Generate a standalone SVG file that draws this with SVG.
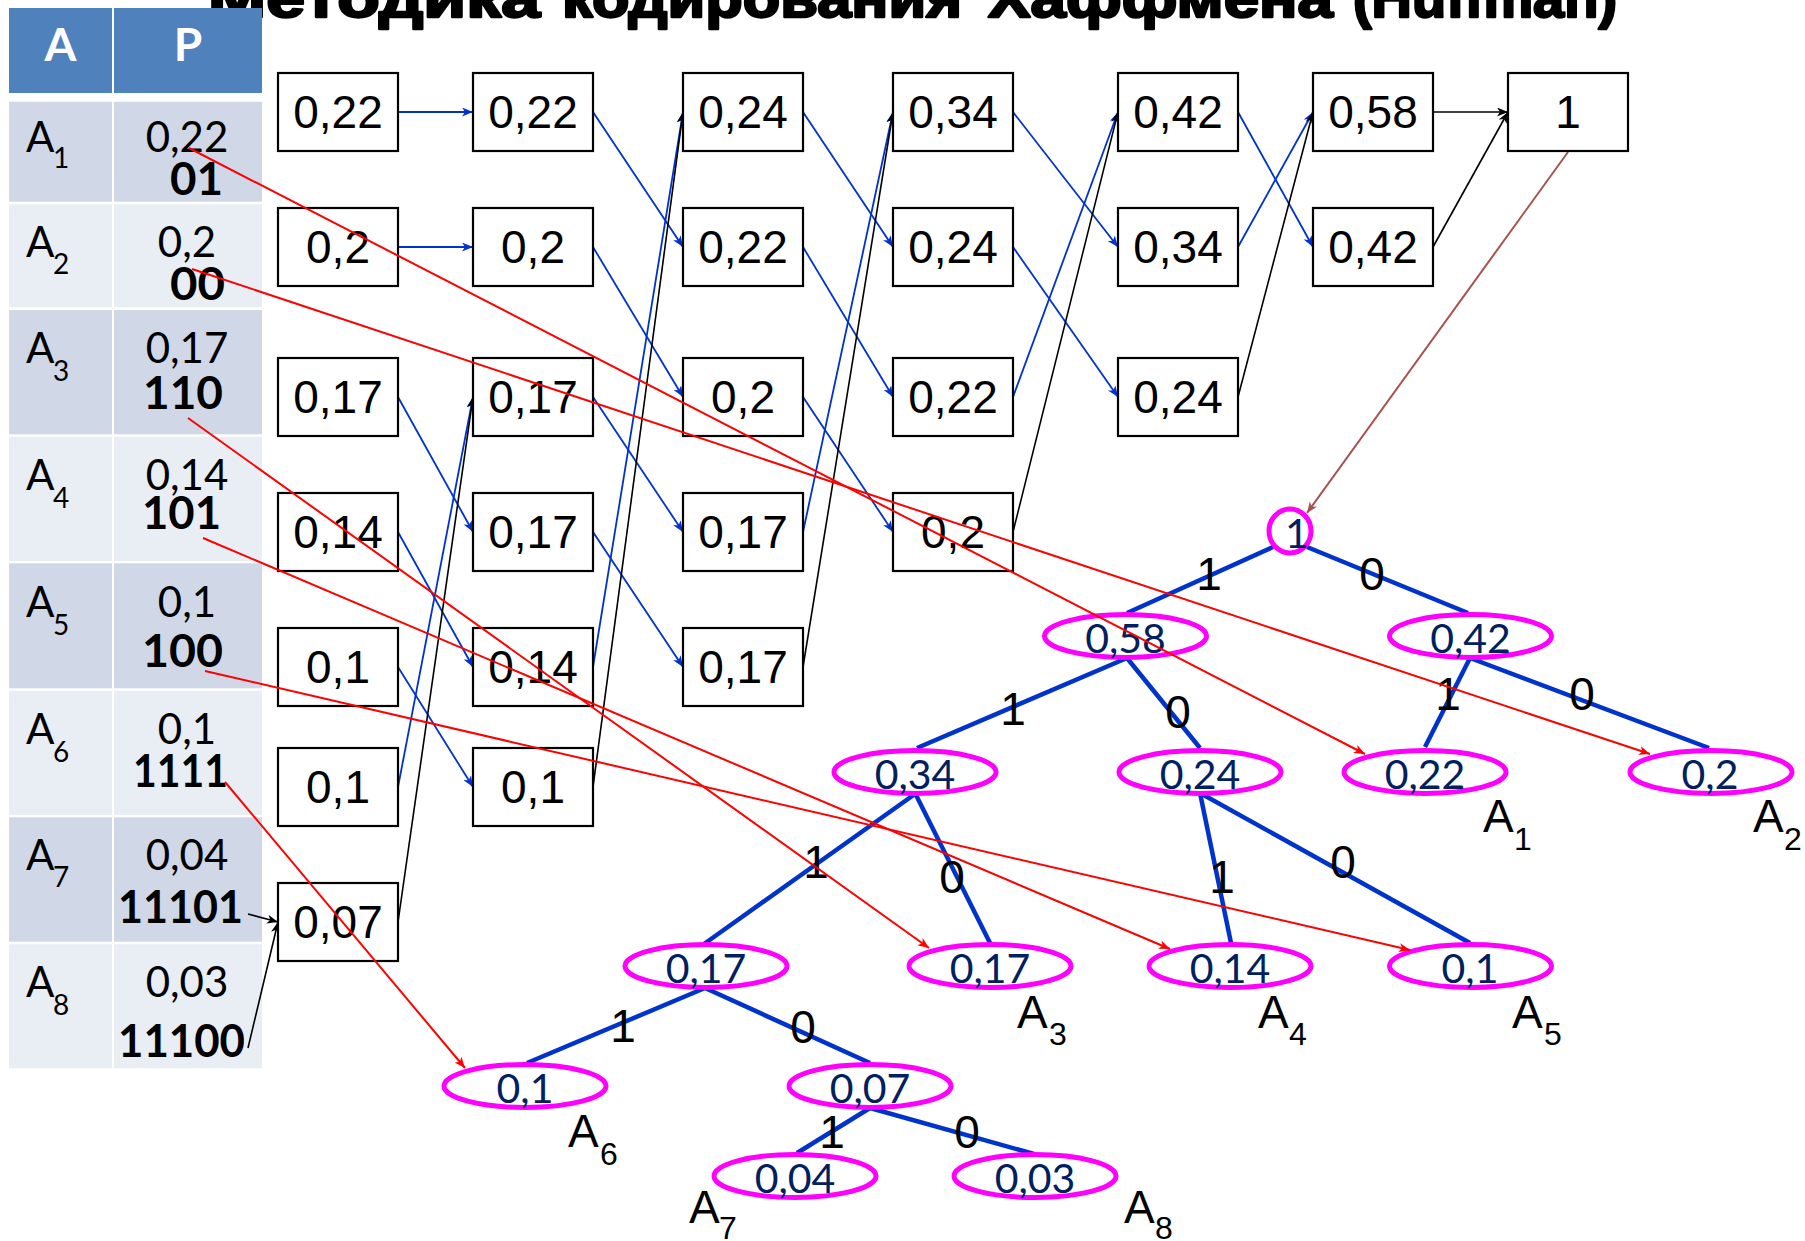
<svg xmlns="http://www.w3.org/2000/svg" width="1805" height="1241" viewBox="0 0 1805 1241">
<style>
.title{font-family:"Liberation Sans",Arial,sans-serif;font-weight:bold;font-size:56px;fill:#000;stroke:#000;stroke-width:2.4;stroke-linejoin:round}
.hdr{font-family:Lato,"Liberation Sans",sans-serif;font-weight:bold;font-size:46px;fill:#fff;text-anchor:middle}
.ta{font-family:Lato,"Liberation Sans",sans-serif;font-size:42px;fill:#000}
.tsub{font-family:Lato,"Liberation Sans",sans-serif;font-size:28px;fill:#000}
.tp{font-family:Lato,"Liberation Sans",sans-serif;font-size:42px;fill:#000;text-anchor:middle}
.tc{font-family:Lato,"Liberation Sans",sans-serif;font-size:46px;font-weight:bold;fill:#000}
.dark{fill:#D0D8E8}
.light{fill:#E9EDF4}
.box rect{fill:#fff;stroke:#000;stroke-width:2.2}
.box text{font-family:"Liberation Sans",Arial,sans-serif;font-size:46px;fill:#000;text-anchor:middle}
.nd ellipse{fill:none;stroke:#FF00FF;stroke-width:5}
.nd text{font-family:Lato,"Liberation Sans",sans-serif;font-size:41px;fill:#002060;text-anchor:middle}
.edge{stroke:#0033CC;stroke-width:4.5;fill:none}
.lbl{font-family:"Liberation Sans",Arial,sans-serif;font-size:46px;fill:#000;text-anchor:middle}
.la{font-family:"Liberation Sans",Arial,sans-serif;font-size:46px;fill:#000}
.ls{font-family:"Liberation Sans",Arial,sans-serif;font-size:32px;fill:#000}
.cb{stroke:#0033CC;stroke-width:1.8;fill:none;marker-end:url(#ab)}
.ck{stroke:#000;stroke-width:1.6;fill:none;marker-end:url(#ak)}
.cr{stroke:#FF0000;stroke-width:2;fill:none;marker-end:url(#ar)}
.cbr{stroke:#A8524F;stroke-width:2;fill:none;marker-end:url(#abr)}
</style>
<defs>
<marker id="ab" markerUnits="userSpaceOnUse" markerWidth="12" markerHeight="9" refX="11" refY="4.5" orient="auto"><path d="M0,0 L11,4.5 L0,9 L3,4.5 z" fill="#0033CC"/></marker>
<marker id="ak" markerUnits="userSpaceOnUse" markerWidth="12" markerHeight="9" refX="11" refY="4.5" orient="auto"><path d="M0,0 L11,4.5 L0,9 L3,4.5 z" fill="#000"/></marker>
<marker id="ar" markerUnits="userSpaceOnUse" markerWidth="12" markerHeight="9" refX="11" refY="4.5" orient="auto"><path d="M0,0 L11,4.5 L0,9 L3,4.5 z" fill="#FF0000"/></marker>
<marker id="abr" markerUnits="userSpaceOnUse" markerWidth="12" markerHeight="9" refX="11" refY="4.5" orient="auto"><path d="M0,0 L11,4.5 L0,9 L3,4.5 z" fill="#A8524F"/></marker>
</defs>
<rect width="1805" height="1241" fill="#fff"/>
<g id="title">
<text class="title" x="208" y="17" textLength="332" lengthAdjust="spacingAndGlyphs">Методика</text>
<text class="title" x="562" y="17" textLength="400" lengthAdjust="spacingAndGlyphs">кодирования</text>
<text class="title" x="988" y="17" textLength="345" lengthAdjust="spacingAndGlyphs">Хаффмена</text>
<text class="title" x="1353" y="17" textLength="264" lengthAdjust="spacingAndGlyphs">(Huffman)</text>
</g>

<g id="table">
<rect x="9" y="8" width="103" height="85" fill="#4F81BD"/>
<rect x="114" y="8" width="148" height="85" fill="#4F81BD"/>
<text class="hdr" x="60.5" y="61">A</text>
<text class="hdr" x="188" y="61">P</text>
<rect class="dark" x="9" y="101.7" width="103" height="100"/>
<rect class="dark" x="114" y="101.7" width="148" height="100"/>
<rect class="light" x="9" y="204.3" width="103" height="103"/>
<rect class="light" x="114" y="204.3" width="148" height="103"/>
<rect class="dark" x="9" y="310" width="103" height="124.3"/>
<rect class="dark" x="114" y="310" width="148" height="124.3"/>
<rect class="light" x="9" y="436.7" width="103" height="124.3"/>
<rect class="light" x="114" y="436.7" width="148" height="124.3"/>
<rect class="dark" x="9" y="563.3" width="103" height="125"/>
<rect class="dark" x="114" y="563.3" width="148" height="125"/>
<rect class="light" x="9" y="690.7" width="103" height="124.3"/>
<rect class="light" x="114" y="690.7" width="148" height="124.3"/>
<rect class="dark" x="9" y="817.3" width="103" height="124.4"/>
<rect class="dark" x="114" y="817.3" width="148" height="124.4"/>
<rect class="light" x="9" y="944.3" width="103" height="124"/>
<rect class="light" x="114" y="944.3" width="148" height="124"/>

<text class="ta" x="26" y="151.7">A</text><text class="tsub" x="53" y="168">1</text>
<text class="tp" x="187" y="151.7">0,22</text>
<text class="tc" x="170" y="195" textLength="53" lengthAdjust="spacingAndGlyphs">01</text>

<text class="ta" x="26" y="256.7">A</text><text class="tsub" x="53" y="274">2</text>
<text class="tp" x="187" y="256.7">0,2</text>
<text class="tc" x="170" y="300" textLength="55" lengthAdjust="spacingAndGlyphs">00</text>

<text class="ta" x="26" y="363.3">A</text><text class="tsub" x="53" y="380.7">3</text>
<text class="tp" x="187" y="363.3">0,17</text>
<text class="tc" x="143" y="409.3" textLength="80" lengthAdjust="spacingAndGlyphs">110</text>

<text class="ta" x="26" y="490">A</text><text class="tsub" x="53" y="508">4</text>
<text class="tp" x="187" y="490">0,14</text>
<text class="tc" x="142" y="529.3" textLength="79" lengthAdjust="spacingAndGlyphs">101</text>

<text class="ta" x="26" y="616.7">A</text><text class="tsub" x="53" y="635">5</text>
<text class="tp" x="187" y="616.7">0,1</text>
<text class="tc" x="142" y="666.7" textLength="81" lengthAdjust="spacingAndGlyphs">100</text>

<text class="ta" x="26" y="744.3">A</text><text class="tsub" x="53" y="761.7">6</text>
<text class="tp" x="187" y="744.3">0,1</text>
<text class="tc" x="133" y="787.3" textLength="95" lengthAdjust="spacingAndGlyphs">1111</text>

<text class="ta" x="26" y="870">A</text><text class="tsub" x="53" y="887.3">7</text>
<text class="tp" x="187" y="870">0,04</text>
<text class="tc" x="118" y="923.3" textLength="125" lengthAdjust="spacingAndGlyphs">11101</text>

<text class="ta" x="26" y="996.7">A</text><text class="tsub" x="53" y="1015">8</text>
<text class="tp" x="187" y="996.7">0,03</text>
<text class="tc" x="118" y="1057.3" textLength="127" lengthAdjust="spacingAndGlyphs">11100</text>
</g>

<g id="connectors">
<line class="cb" x1="398" y1="112" x2="473" y2="112"/>
<line class="cb" x1="398" y1="247" x2="473" y2="247"/>
<line class="cb" x1="398" y1="397" x2="473" y2="532"/>
<line class="cb" x1="398" y1="532" x2="473" y2="667"/>
<line class="cb" x1="398" y1="667" x2="473" y2="787"/>
<line class="cb" x1="398" y1="787" x2="473" y2="397"/>
<line class="ck" x1="398" y1="922" x2="473" y2="397"/>
<line class="cb" x1="593" y1="112" x2="683" y2="247"/>
<line class="cb" x1="593" y1="247" x2="683" y2="397"/>
<line class="cb" x1="593" y1="397" x2="683" y2="532"/>
<line class="cb" x1="593" y1="532" x2="683" y2="667"/>
<line class="cb" x1="593" y1="667" x2="683" y2="112"/>
<line class="ck" x1="593" y1="787" x2="683" y2="112"/>
<line class="cb" x1="803" y1="112" x2="893" y2="247"/>
<line class="cb" x1="803" y1="247" x2="893" y2="397"/>
<line class="cb" x1="803" y1="397" x2="893" y2="532"/>
<line class="cb" x1="803" y1="532" x2="893" y2="112"/>
<line class="ck" x1="803" y1="667" x2="893" y2="112"/>
<line class="cb" x1="1013" y1="112" x2="1118" y2="247"/>
<line class="cb" x1="1013" y1="247" x2="1118" y2="397"/>
<line class="cb" x1="1013" y1="397" x2="1118" y2="112"/>
<line class="ck" x1="1013" y1="532" x2="1118" y2="112"/>
<line class="cb" x1="1238" y1="112" x2="1313" y2="247"/>
<line class="cb" x1="1238" y1="247" x2="1313" y2="112"/>
<line class="ck" x1="1238" y1="397" x2="1313" y2="112"/>
<line class="ck" x1="1433" y1="112" x2="1508" y2="112"/>
<line class="ck" x1="1433" y1="247" x2="1508" y2="112"/>
<line class="ck" x1="248" y1="914" x2="278" y2="922"/>
<line class="ck" x1="248" y1="1048" x2="278" y2="922"/>
<line class="cbr" x1="1568" y1="152" x2="1307" y2="513"/>
<line class="edge" x1="1273" y1="547" x2="1127" y2="613"/>
<line class="edge" x1="1307" y1="547" x2="1468" y2="613"/>
<line class="edge" x1="1127" y1="658" x2="917" y2="748"/>
<line class="edge" x1="1127" y1="658" x2="1200" y2="748"/>
<line class="edge" x1="1470" y1="658" x2="1425" y2="747"/>
<line class="edge" x1="1470" y1="658" x2="1709" y2="748"/>
<line class="edge" x1="915" y1="794" x2="704" y2="944"/>
<line class="edge" x1="916" y1="795" x2="990" y2="943"/>
<line class="edge" x1="1200" y1="793" x2="1231" y2="943"/>
<line class="edge" x1="1200" y1="793" x2="1470" y2="943"/>
<line class="edge" x1="705" y1="988" x2="527" y2="1063"/>
<line class="edge" x1="705" y1="988" x2="870" y2="1063"/>
<line class="edge" x1="870" y1="1108" x2="797" y2="1153"/>
<line class="edge" x1="870" y1="1108" x2="1034" y2="1154"/>
</g>

<g id="boxes">
<g id="b1-1" class="box"><rect x="278" y="73" width="120" height="78"/><text x="338" y="128">0,22</text></g>
<g id="b1-2" class="box"><rect x="278" y="208" width="120" height="78"/><text x="338" y="263">0,2</text></g>
<g id="b1-3" class="box"><rect x="278" y="358" width="120" height="78"/><text x="338" y="413">0,17</text></g>
<g id="b1-4" class="box"><rect x="278" y="493" width="120" height="78"/><text x="338" y="548">0,14</text></g>
<g id="b1-5" class="box"><rect x="278" y="628" width="120" height="78"/><text x="338" y="683">0,1</text></g>
<g id="b1-6" class="box"><rect x="278" y="748" width="120" height="78"/><text x="338" y="803">0,1</text></g>
<g id="b1-7" class="box"><rect x="278" y="883" width="120" height="78"/><text x="338" y="938">0,07</text></g>

<g id="b2-1" class="box"><rect x="473" y="73" width="120" height="78"/><text x="533" y="128">0,22</text></g>
<g id="b2-2" class="box"><rect x="473" y="208" width="120" height="78"/><text x="533" y="263">0,2</text></g>
<g id="b2-3" class="box"><rect x="473" y="358" width="120" height="78"/><text x="533" y="413">0,17</text></g>
<g id="b2-4" class="box"><rect x="473" y="493" width="120" height="78"/><text x="533" y="548">0,17</text></g>
<g id="b2-5" class="box"><rect x="473" y="628" width="120" height="78"/><text x="533" y="683">0,14</text></g>
<g id="b2-6" class="box"><rect x="473" y="748" width="120" height="78"/><text x="533" y="803">0,1</text></g>

<g id="b3-1" class="box"><rect x="683" y="73" width="120" height="78"/><text x="743" y="128">0,24</text></g>
<g id="b3-2" class="box"><rect x="683" y="208" width="120" height="78"/><text x="743" y="263">0,22</text></g>
<g id="b3-3" class="box"><rect x="683" y="358" width="120" height="78"/><text x="743" y="413">0,2</text></g>
<g id="b3-4" class="box"><rect x="683" y="493" width="120" height="78"/><text x="743" y="548">0,17</text></g>
<g id="b3-5" class="box"><rect x="683" y="628" width="120" height="78"/><text x="743" y="683">0,17</text></g>

<g id="b4-1" class="box"><rect x="893" y="73" width="120" height="78"/><text x="953" y="128">0,34</text></g>
<g id="b4-2" class="box"><rect x="893" y="208" width="120" height="78"/><text x="953" y="263">0,24</text></g>
<g id="b4-3" class="box"><rect x="893" y="358" width="120" height="78"/><text x="953" y="413">0,22</text></g>
<g id="b4-4" class="box"><rect x="893" y="493" width="120" height="78"/><text x="953" y="548">0,2</text></g>

<g id="b5-1" class="box"><rect x="1118" y="73" width="120" height="78"/><text x="1178" y="128">0,42</text></g>
<g id="b5-2" class="box"><rect x="1118" y="208" width="120" height="78"/><text x="1178" y="263">0,34</text></g>
<g id="b5-3" class="box"><rect x="1118" y="358" width="120" height="78"/><text x="1178" y="413">0,24</text></g>

<g id="b6-1" class="box"><rect x="1313" y="73" width="120" height="78"/><text x="1373" y="128">0,58</text></g>
<g id="b6-2" class="box"><rect x="1313" y="208" width="120" height="78"/><text x="1373" y="263">0,42</text></g>

<g id="b7-1" class="box"><rect x="1508" y="73" width="120" height="78"/><text x="1568" y="128">1</text></g>
</g>

<g id="tree">
<g id="n-root" class="nd"><ellipse cx="1290" cy="531" rx="21" ry="22"/><text x="1297" y="548">1</text></g>
<g id="n-058" class="nd"><ellipse cx="1125.5" cy="636" rx="81" ry="21.5"/><text x="1125.5" y="653">0,58</text></g>
<g id="n-042" class="nd"><ellipse cx="1470.5" cy="636" rx="81" ry="21.5"/><text x="1470.5" y="653">0,42</text></g>
<g id="n-034" class="nd"><ellipse cx="915" cy="772" rx="81" ry="21.5"/><text x="915" y="789">0,34</text></g>
<g id="n-024" class="nd"><ellipse cx="1200" cy="772" rx="81" ry="21.5"/><text x="1200" y="789">0,24</text></g>
<g id="n-022" class="nd"><ellipse cx="1425" cy="772" rx="81" ry="21.5"/><text x="1425" y="789">0,22</text></g>
<g id="n-02" class="nd"><ellipse cx="1711" cy="772" rx="81" ry="21.5"/><text x="1710" y="789">0,2</text></g>
<g id="n-017a" class="nd"><ellipse cx="706" cy="966" rx="81" ry="21.5"/><text x="706" y="983">0,17</text></g>
<g id="n-017b" class="nd"><ellipse cx="990" cy="966" rx="81" ry="21.5"/><text x="990" y="983">0,17</text></g>
<g id="n-014" class="nd"><ellipse cx="1230" cy="966" rx="81" ry="21.5"/><text x="1230" y="983">0,14</text></g>
<g id="n-01a" class="nd"><ellipse cx="1470.5" cy="966" rx="81" ry="21.5"/><text x="1470" y="983">0,1</text></g>
<g id="n-01b" class="nd"><ellipse cx="525" cy="1086" rx="81" ry="21.5"/><text x="525" y="1103">0,1</text></g>
<g id="n-007" class="nd"><ellipse cx="870" cy="1086" rx="81" ry="21.5"/><text x="870" y="1103">0,07</text></g>
<g id="n-004" class="nd"><ellipse cx="795" cy="1176" rx="81" ry="21.5"/><text x="795" y="1193">0,04</text></g>
<g id="n-003" class="nd"><ellipse cx="1035" cy="1176" rx="81" ry="21.5"/><text x="1035" y="1193">0,03</text></g>
</g>

<g id="edge-labels">
<text class="lbl" x="1209" y="590">1</text>
<text class="lbl" x="1372" y="590">0</text>
<text class="lbl" x="1013" y="725">1</text>
<text class="lbl" x="1178" y="728">0</text>
<text class="lbl" x="1448" y="710">1</text>
<text class="lbl" x="1582" y="710">0</text>
<text class="lbl" x="816" y="878">1</text>
<text class="lbl" x="952" y="893">0</text>
<text class="lbl" x="1222" y="893">1</text>
<text class="lbl" x="1343" y="878">0</text>
<text class="lbl" x="623" y="1042">1</text>
<text class="lbl" x="803" y="1043">0</text>
<text class="lbl" x="832" y="1148">1</text>
<text class="lbl" x="967" y="1148">0</text>
</g>

<g id="leaf-labels">
<text class="la" x="1483" y="832">A</text><text class="ls" x="1514" y="850">1</text>
<text class="la" x="1753" y="832">A</text><text class="ls" x="1784" y="850">2</text>
<text class="la" x="1017" y="1028">A</text><text class="ls" x="1049" y="1045">3</text>
<text class="la" x="1258" y="1028">A</text><text class="ls" x="1289" y="1045">4</text>
<text class="la" x="1512" y="1028">A</text><text class="ls" x="1544" y="1045">5</text>
<text class="la" x="568" y="1147">A</text><text class="ls" x="600" y="1165">6</text>
<text class="la" x="689" y="1223">A</text><text class="ls" x="719" y="1239">7</text>
<text class="la" x="1124" y="1223">A</text><text class="ls" x="1155" y="1239">8</text>
</g>

<g id="code-links">
<line class="cr" x1="189" y1="148" x2="1365" y2="754"/>
<line class="cr" x1="192" y1="269" x2="1650" y2="754"/>
<line class="cr" x1="188" y1="418" x2="929" y2="948"/>
<line class="cr" x1="203" y1="538" x2="1170" y2="949"/>
<line class="cr" x1="205" y1="671" x2="1410" y2="950"/>
<line class="cr" x1="225" y1="782" x2="465" y2="1068"/>
</g>
</svg>
